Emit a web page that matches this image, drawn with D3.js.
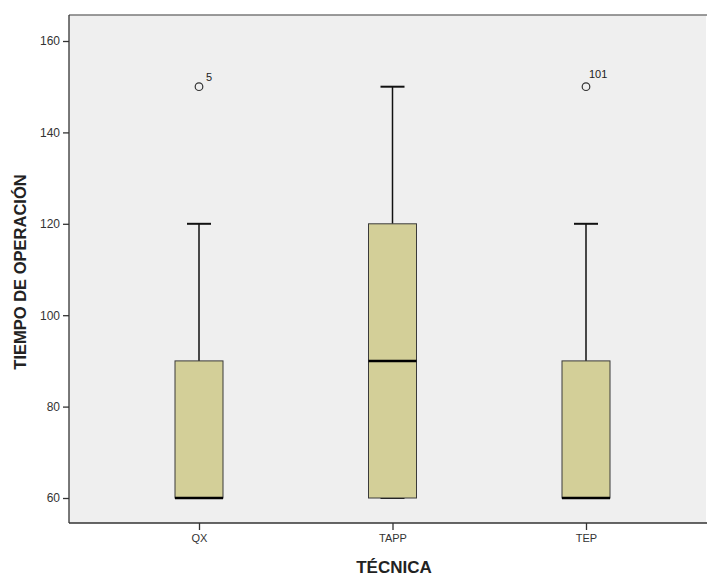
<!DOCTYPE html>
<html><head><meta charset="utf-8">
<script src="https://cdn.jsdelivr.net/npm/d3@7"></script>
<style>body{margin:0;background:#fff;}svg{display:block;font-family:"Liberation Sans",Arial,sans-serif;}</style>
</head><body><svg id="c" width="707" height="578"></svg>
<script>
const categories = ["QX", "TAPP", "TEP"];
const mins    = [60, 60, 60];
const q1s     = [60, 60, 60];
const medians = [60, 90, 60];
const q3s     = [90, 120, 90];
const maxs    = [120, 150, 120];
const outlierValues = [150, null, 150];
const outlierLabels = ["5", null, "101"];
const yTicks = [60, 80, 100, 120, 140, 160];

const svg = d3.select("#c");
const L = 69, R = 706, T = 15, B = 523;
const x = d3.scalePoint().domain(categories).range([199, 586]);
const bw = 48;
const y = d3.scaleLinear().domain([60, 160]).range([498, 41]);

svg.append("rect").attr("x", L).attr("y", T).attr("width", R - L).attr("height", B - T).attr("fill", "#efefef");
svg.append("line").attr("x1", L).attr("x2", R + 1).attr("y1", T).attr("y2", T).attr("stroke", "#7a7a7a").attr("stroke-width", 1.5);

const yAxis = svg.append("g").attr("transform", `translate(${L},0)`)
  .call(d3.axisLeft(y).tickValues(yTicks).tickSize(6).tickPadding(3).tickFormat(d3.format("d")));
yAxis.select(".domain").attr("d", `M0,${T}V${B}`).attr("stroke", "#333").attr("stroke-width", 1.3);
yAxis.selectAll(".tick line").attr("stroke", "#333").attr("stroke-width", 1.3);
yAxis.selectAll("text").attr("font-size", 12).attr("fill", "#333").attr("font-family", "Liberation Sans, Arial, sans-serif");

const xAxis = svg.append("g").attr("transform", `translate(0,${B})`)
  .call(d3.axisBottom(x).tickSize(7).tickPadding(4));
xAxis.select(".domain").attr("d", `M${L},0H${R + 1}`).attr("stroke", "#333").attr("stroke-width", 1.3);
xAxis.selectAll(".tick line").attr("stroke", "#333").attr("stroke-width", 1.3);
xAxis.selectAll("text").attr("font-size", 11).attr("fill", "#333").attr("font-family", "Liberation Sans, Arial, sans-serif");

const g = svg.append("g");
categories.forEach((c, i) => {
  const cx = x(c);
  const x0 = cx - bw / 2;
  const capW = bw / 2;
  g.append("line").attr("x1", cx).attr("x2", cx).attr("y1", y(q3s[i])).attr("y2", y(maxs[i])).attr("stroke", "#111").attr("stroke-width", 1.5);
  g.append("line").attr("x1", cx).attr("x2", cx).attr("y1", y(q1s[i])).attr("y2", y(mins[i])).attr("stroke", "#111").attr("stroke-width", 1.5);
  g.append("line").attr("x1", cx - capW / 2).attr("x2", cx + capW / 2).attr("y1", y(maxs[i])).attr("y2", y(maxs[i])).attr("stroke", "#111").attr("stroke-width", 2);
  g.append("line").attr("x1", cx - capW / 2).attr("x2", cx + capW / 2).attr("y1", y(mins[i])).attr("y2", y(mins[i])).attr("stroke", "#111").attr("stroke-width", 2);
  g.append("rect").attr("x", x0).attr("y", y(q3s[i])).attr("width", bw).attr("height", y(q1s[i]) - y(q3s[i]))
    .attr("fill", "#d3cf98").attr("stroke", "#3a3a3a").attr("stroke-width", 1);
  g.append("line").attr("x1", x0).attr("x2", x0 + bw).attr("y1", y(medians[i])).attr("y2", y(medians[i])).attr("stroke", "#000").attr("stroke-width", 2.5);
  if (outlierValues[i] != null) {
    const cy = y(outlierValues[i]);
    g.append("circle").attr("cx", cx).attr("cy", cy).attr("r", 3.8).attr("fill", "none").attr("stroke", "#333").attr("stroke-width", 1.2);
    const lab = outlierLabels[i];
    g.append("text").attr("x", cx + (lab.length > 1 ? 3 : 7)).attr("y", cy - (lab.length > 1 ? 9 : 6)).attr("font-size", 11).attr("fill", "#222").text(lab);
  }
});

svg.append("text").attr("x", 394).attr("y", 573).attr("text-anchor", "middle").attr("font-size", 17).attr("font-weight", "bold").attr("fill", "#222").text("TÉCNICA");
svg.append("text").attr("transform", "translate(26,272) rotate(-90)").attr("text-anchor", "middle").attr("font-size", 16.5).attr("font-weight", "bold").attr("fill", "#222").text("TIEMPO DE OPERACIÓN");
</script></body></html>
